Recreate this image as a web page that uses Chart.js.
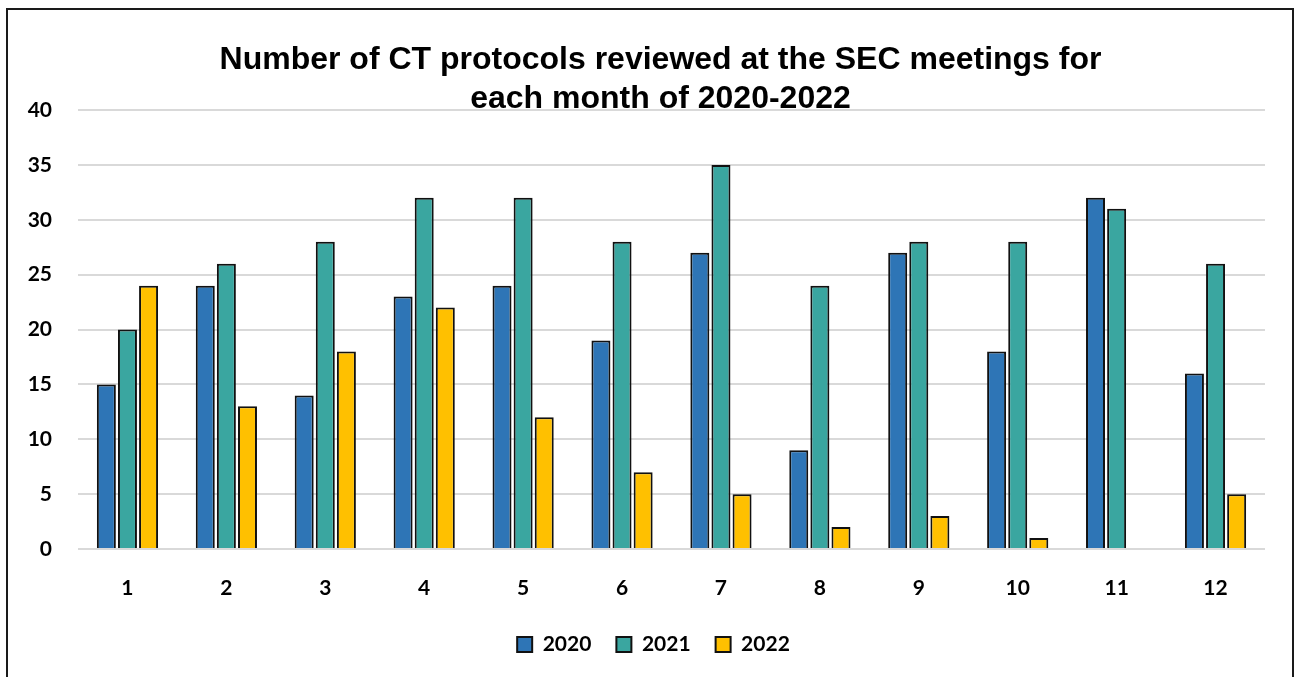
<!DOCTYPE html>
<html>
<head>
<meta charset="utf-8">
<script src="https://cdn.jsdelivr.net/npm/chart.js@4.4.0/dist/chart.umd.min.js"></script>
<style>
  html, body { margin: 0; padding: 0; background: #ffffff; }
  #frame { position: absolute; left: 6px; top: 8px; width: 1284px; height: 700px; border: 2px solid #1a1a1a; }
  #wrap { position: absolute; left: 0; top: 0; width: 1298px; height: 677px; }
</style>
</head>
<body>
<div id="frame"></div>
<div id="wrap"><canvas id="c" width="1298" height="677"></canvas></div>
<script>
const months = ['1','2','3','4','5','6','7','8','9','10','11','12'];
const series2020 = [15, 24, 14, 23, 24, 19, 27, 9, 27, 18, 32, 16];
const series2021 = [20, 26, 28, 32, 32, 28, 35, 24, 28, 28, 31, 26];
const series2022 = [24, 13, 18, 22, 12, 7, 5, 2, 3, 1, 0, 5];
const yTicks = [0, 5, 10, 15, 20, 25, 30, 35, 40];
const titleLines = ['Number of CT protocols reviewed at the SEC meetings for', 'each month of 2020-2022'];

const tickFont = { family: 'Lato', weight: 'bold', size: 21 };

const shiftBlocks = {
  id: 'shiftBlocks',
  afterLayout(chart) {
    const t = chart.titleBlock;
    if (t) { t.left += 28; t.right += 28; }
    const l = chart.legend;
    if (l) { l.left += 21; l.right += 21; }
  }
};

new Chart(document.getElementById('c'), {
  type: 'bar',
  data: {
    labels: months,
    datasets: [
      { label: '2020', data: series2020, backgroundColor: '#2e75b6', borderColor: '#111111', borderWidth: 2, categoryPercentage: 0.64, barPercentage: 0.9 },
      { label: '2021', data: series2021, backgroundColor: '#3aa6a0', borderColor: '#111111', borderWidth: 2, categoryPercentage: 0.64, barPercentage: 0.9 },
      { label: '2022', data: series2022, backgroundColor: '#ffc000', borderColor: '#111111', borderWidth: 2, categoryPercentage: 0.64, barPercentage: 0.9 }
    ]
  },
  plugins: [shiftBlocks],
  options: {
    responsive: false,
    animation: false,
    layout: { padding: { left: 0, right: 33, top: 0, bottom: 12 } },
    plugins: {
      title: {
        display: true,
        text: titleLines,
        color: '#000000',
        font: { family: 'Liberation Sans', weight: 'bold', size: 32, lineHeight: 1.22 },
        padding: { top: 41, bottom: -9 }
      },
      legend: {
        position: 'bottom',
        labels: {
          color: '#000000',
          font: tickFont,
          boxWidth: 15,
          boxHeight: 15,
          padding: 25
        }
      },
      tooltip: { enabled: false }
    },
    scales: {
      x: {
        grid: { display: false, drawTicks: false },
        border: { display: false },
        ticks: { color: '#000000', font: tickFont, padding: 27 },
        afterFit: (s) => { s.height = 60; }
      },
      y: {
        min: 0,
        max: 40,
        afterBuildTicks: (s) => { s.ticks = yTicks.map(v => ({ value: v })); },
        grid: { color: '#d9d9d9', lineWidth: 2, drawTicks: false },
        border: { display: false },
        ticks: { color: '#000000', font: tickFont, padding: 26 },
        afterFit: (s) => { s.width = 78; }
      }
    }
  }
});
</script>
</body>
</html>
